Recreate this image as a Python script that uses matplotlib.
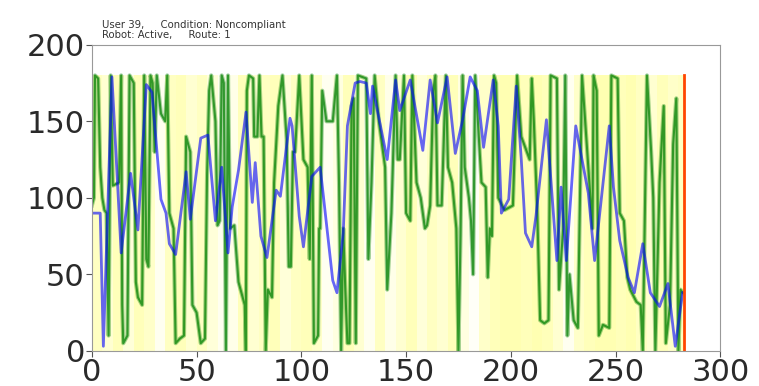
import matplotlib
matplotlib.use("Agg")
import matplotlib.pyplot as plt
import numpy as np

# run info shown above the axes
user_id = 39
condition = "Noncompliant"
robot = "Active"
route = 1
t_end = 282.5

# robot heading (blue)
blue_t = [0, 4, 5.5, 9.6, 14, 18.5, 22, 26, 28.7, 33, 35.4, 37, 40, 45, 47, 52, 55.4, 59,
          62, 65, 67, 70, 73.6, 76.6, 78, 80.7, 83.6, 88, 90, 94.6, 95.6, 99, 101, 105, 109,
          115, 117, 120, 122, 125.7, 128, 131, 133, 134, 141, 145, 147, 152, 158, 161.5, 165,
          169.6, 173.5, 177, 180.6, 184, 187, 191.6, 194, 195.5, 199, 202.6, 205, 207, 210,
          212, 217, 222, 224, 226.5, 231, 237, 240, 247, 249, 252, 256, 259, 263, 266.6, 271,
          275, 278.5, 282]
blue_v = [90, 90, 3, 179, 64, 116, 79, 174, 169, 99, 90, 70, 63, 117, 86, 139, 141, 85,
          120, 64, 94, 118, 156, 97, 123, 75, 61, 105, 101, 152, 147, 88, 68, 114, 120,
          46, 38, 77, 147, 175, 176, 175, 155, 173, 125, 177, 157, 177, 131, 177, 149,
          179, 129, 151, 179, 170, 133, 177, 147, 90, 99, 173, 125, 77, 68,
          88, 151, 59, 107, 59, 147, 103, 59, 147, 107, 72, 48, 38, 70, 38, 29,
          44, 3, 38]

# user heading (green)
green_t = [0, 1, 1.5, 3, 4, 5, 6, 7, 8, 9, 10, 13, 14, 14.5, 15, 17, 18, 20, 21, 22, 24, 25,
           26, 27, 28, 29, 30, 31, 33, 35, 36, 37, 39, 40, 42, 44, 45, 47, 48, 50, 52, 54,
           55, 56, 57, 58, 59, 60, 61, 62, 63, 64, 65, 66, 68, 70, 72, 73, 73.5, 74, 75, 77,
           77.5, 79, 80, 81, 82, 83, 84, 86, 87, 89, 91, 93, 94, 95, 96, 97, 99, 101, 103,
           104, 105, 106, 108, 108.5, 109, 110, 112, 115, 117, 118, 119, 120, 121, 122, 123,
           124, 125, 126, 127, 131, 132, 133.5, 135, 137, 140, 141, 143, 145, 146, 147, 149,
           150, 152, 153, 155, 157, 159, 160, 161.5, 163, 164, 165, 167, 169, 170, 172, 174,
           175, 176, 177, 178, 180, 181, 182, 183, 186, 188, 189, 190, 191, 192, 193, 194,
           197, 201, 203, 205, 209, 210, 211, 212.6, 214, 216, 218, 219, 222, 223, 225, 226,
           227, 228, 230, 232, 234, 236, 237, 239, 239.5, 241, 242, 244, 247, 248, 251, 252,
           254, 255.6, 257, 260, 262, 263, 265, 267, 268, 269, 271, 273, 274, 276, 277.5,
           279, 280, 281, 282]
green_v = [95, 100, 180, 178, 120, 100, 92, 90, 10, 180, 108, 110, 180, 30, 5, 10, 180, 175, 45, 35, 30, 180,
           60, 55, 180, 175, 130, 180, 155, 150, 180, 90, 80, 5, 8, 10, 140, 130, 30, 25, 5, 8,
           115, 170, 180, 165, 150, 82, 85, 180, 175, 0, 180, 80, 82, 45, 35, 30, 0, 170, 180, 178,
           140, 140, 180, 140, 140, 0, 40, 35, 110, 160, 180, 138, 55, 55, 130, 130, 180, 125, 120,
           60, 180, 5, 10, 80, 80, 170, 150, 150, 180, 110, 0, 80, 40, 5, 5,
           160, 165, 5, 180, 178, 60, 110, 180, 150, 120, 40, 90, 180, 125, 125, 180,
           90, 85, 180, 110, 100, 80, 82, 95, 170, 180, 95, 95, 180, 120, 110, 80,
           0, 75, 180, 120, 100, 85, 50, 180, 110, 107, 48, 80, 75, 180, 175, 100,
           92, 95, 180, 140, 125, 178, 150, 92, 20, 18, 20, 180, 178, 40, 80, 180,
           10, 50, 20, 15, 180, 140, 120, 80, 180, 170, 10, 17, 15, 180, 178, 90,
           85, 48, 40, 32, 30, 0, 180, 130, 100, 0, 110, 160, 5, 30, 135,
           165, 0, 40, 38]

# background shading per 5-step bin (0 = none, 1 = full)
shade = [0.8, 0.6, 0.9, 0.5, 0.9, 0.7, 0.2, 0.8, 0.9, 0.6, 0.8, 0.5, 0.2, 0.3, 0.9, 0.6,
         0.8, 0.9, 0.5, 0.8, 0.9, 0.7, 0.2, 0.4, 0.9, 0.6, 0.2, 0.8, 0.3, 0.6, 0.9, 0.5,
         0.8, 0.6, 0.9, 0.4, 0.1, 0.7, 0.9, 1.0, 1.0, 0.9, 1.0, 0.9, 0.6, 0.2, 0.7, 0.9,
         1.0, 1.0, 0.9, 1.0, 0.8, 0.6, 0.9, 0.7, 0.8]
bin_w = 5

fig = plt.figure(figsize=(7.59, 3.86), dpi=100)
ax = fig.add_axes([0.121, 0.091, 0.828, 0.793])

bin_x = np.arange(len(shade)) * bin_w
widths = np.minimum(bin_w, t_end - bin_x)
cols = [(1.0, 1.0, 0.0, 0.3 * s) for s in shade]
ax.bar(bin_x, 180, width=widths, align='edge', color=cols, linewidth=0)

# green drawn twice: a light wide stroke and a thinner dark one on top
ax.plot(green_t, green_v, color='green', lw=3.0, alpha=0.35)
ax.plot(green_t, green_v, color='green', lw=1.5, alpha=0.7)
ax.plot(blue_t, blue_v, color='blue', lw=2.0, alpha=0.6)
ax.plot([t_end, t_end], [0, 180], color='orangered', lw=2)

ax.set_xlim(0, 300)
ax.set_ylim(0, 200)
ax.set_xticks([0, 50, 100, 150, 200, 250, 300])
ax.set_yticks([0, 50, 100, 150, 200])
ax.tick_params(labelsize=22, colors='#555555', labelcolor='#2a2a2a', length=4, pad=1)
for s in ax.spines.values():
    s.set_color('#999999')

fig.text(0.134, 0.897, "User %d,     Condition: %s\nRobot: %s,     Route: %d"
         % (user_id, condition, robot, route), fontsize=7.3, color='#333333',
         va='bottom', ha='left', linespacing=0.95)

fig.savefig("out.png", dpi=100)
